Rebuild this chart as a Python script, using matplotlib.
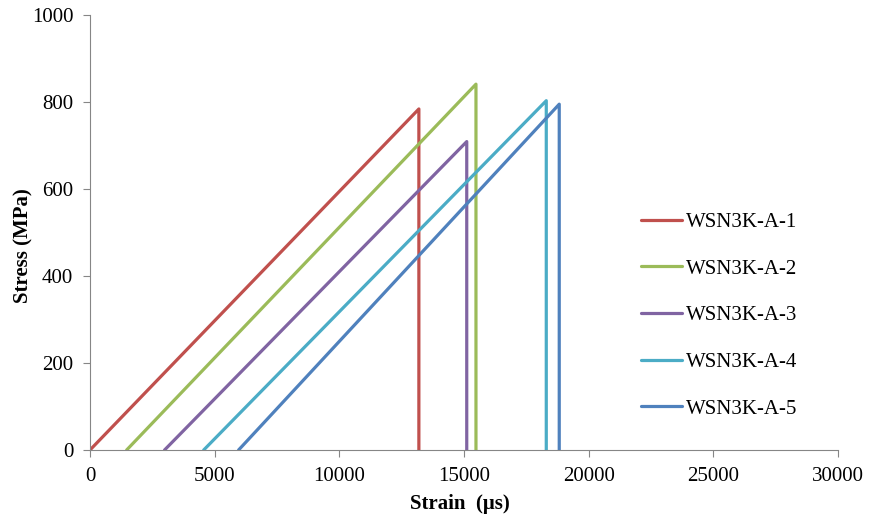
import matplotlib
matplotlib.use("Agg")
import matplotlib.pyplot as plt

labels = ["WSN3K-A-1", "WSN3K-A-2", "WSN3K-A-3", "WSN3K-A-4", "WSN3K-A-5"]
start_strain = [0, 1470, 2990, 4560, 5960]
end_strain = [13190, 15480, 15110, 18300, 18820]
peak_stress = [784, 841, 709, 803, 795]
colors = ["#C0504D", "#9BBB59", "#8064A2", "#4BACC6", "#4F81BD"]

plt.rcParams['font.family'] = ['Liberation Serif', 'DejaVu Serif']

fig = plt.figure(figsize=(8.72, 5.16), dpi=100)
ax = fig.add_axes([90/872, 66/516, (838-90)/872, (450-15)/516])

for lab, s, e, p, c in zip(labels, start_strain, end_strain, peak_stress, colors):
    ax.plot([s, e, e], [0, p, 0], color=c, lw=2.3, label=lab, solid_capstyle='round')

ax.set_xlim(0, 30000)
ax.set_ylim(0, 1000)
ax.set_xticks(range(0, 30001, 5000))
ax.set_yticks(range(0, 1001, 200))
for sp in ['top', 'right']:
    ax.spines[sp].set_visible(False)
for sp in ['left', 'bottom']:
    ax.spines[sp].set_color('#868686')
ax.tick_params(direction='out', length=5, color='#868686', labelsize=15)
ax.tick_params(axis='y', pad=7)
ax.tick_params(axis='x', pad=7)
ax.set_xlabel("Strain  (μs)", fontsize=15, fontweight='bold')
ax.set_ylabel("Stress (MPa)", fontsize=15, fontweight='bold')
ax.xaxis.set_label_coords(0.4947, -0.101)
ax.yaxis.set_label_coords(-0.075, 0.469)

leg = ax.legend(loc='upper left', bbox_to_anchor=(0.711, 0.5896), frameon=False,
                fontsize=15, handlelength=2.0, handletextpad=0.2, labelspacing=1.3)

fig.savefig("out.png", dpi=100)
